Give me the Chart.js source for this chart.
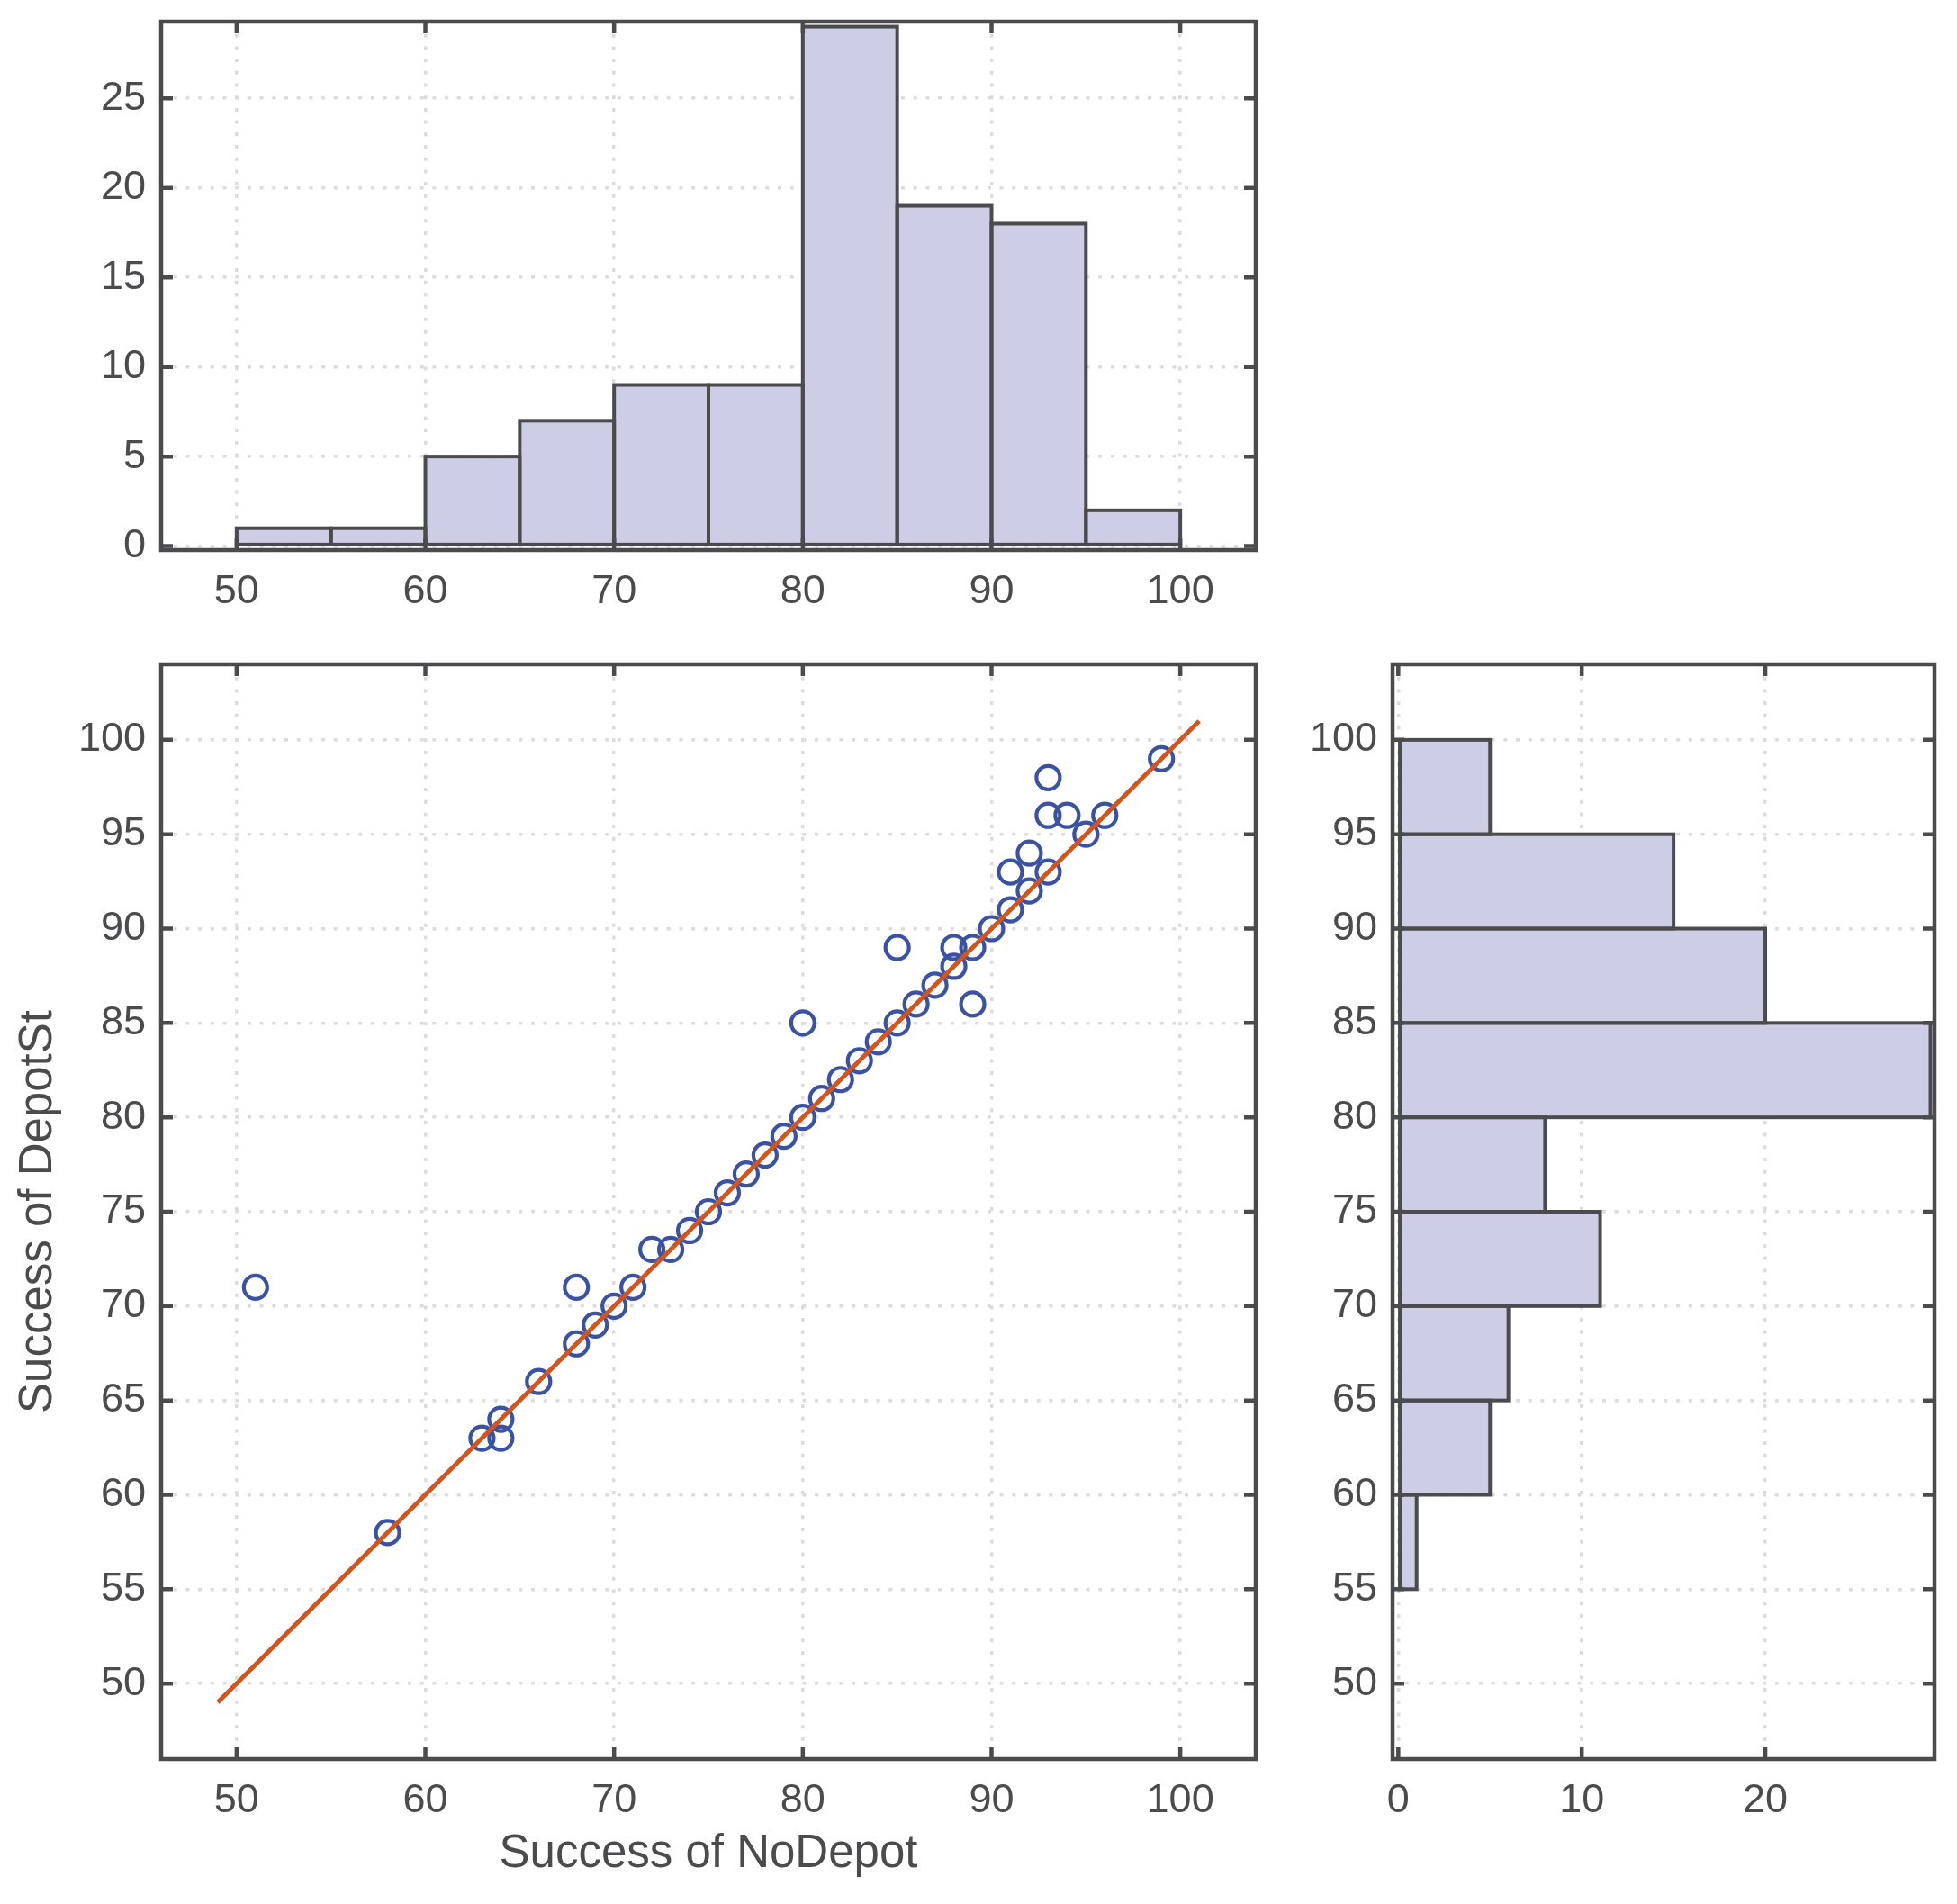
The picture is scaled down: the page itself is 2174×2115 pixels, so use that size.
<!DOCTYPE html>
<html>
<head>
<meta charset="utf-8">
<script src="https://cdn.jsdelivr.net/npm/chart.js@4.4.1/dist/chart.umd.min.js"></script>
<style>
html,body{margin:0;padding:0;background:#fff;overflow:hidden;width:2174px;height:2115px}
canvas{position:absolute;left:0;top:0}
</style>
</head>
<body>
<canvas id="topHist" width="2174" height="2115"></canvas>
<canvas id="mainScatter" width="2174" height="2115"></canvas>
<canvas id="sideHist" width="2174" height="2115"></canvas>
<script>
// ---------------- data ----------------
const noDepot = [51,58,63,64,64,66,68,68,69,70,71,72,73,74,75,76,77,78,79,80,80,81,82,83,84,85,85,86,87,88,88,89,89,90,91,91,92,92,93,93,93,94,95,96,99];
const depotSt = [71,58,63,64,63,66,71,68,69,70,71,73,73,74,75,76,77,78,79,80,85,81,82,83,84,85,89,86,87,88,89,89,86,90,91,93,92,94,93,96,98,96,95,96,99];
const fitLineX = [49, 101];
const fitLineY = [49, 101];

const noDepotBinEdges = [50,55,60,65,70,75,80,85,90,95,100];
const noDepotCounts   = [1,1,5,7,9,9,29,19,18,2];
const depotStBinEdges = [55,60,65,70,75,80,85,90,95,100];
const depotStCounts   = [1,5,6,11,8,29,20,15,5];

const successTicksX = [50,60,70,80,90,100];
const successTicksY = [50,55,60,65,70,75,80,85,90,95,100];
const topCountTicks = [0,5,10,15,20,25];
const sideCountTicks = [0,10,20];

const xTitle = 'Success of NoDepot';
const yTitle = 'Success of DepotSt';

// ---------------- style ----------------
const AX = '#4b4b4d';
const GRID = '#dcdcdc';
const FILL = '#cecde6';
const MARKER = '#3a52a4';
const FITCOLOR = '#d95319';
const FONT = "'Liberation Sans', Arial, Helvetica, sans-serif";

function axis(pos, min, max, tickVals, size, title) {
  return {
    type: 'linear', position: pos, min: min, max: max,
    offset: false,
    afterBuildTicks: s => { s.ticks = tickVals.map(v => ({ value: v })); },
    afterFit: s => {
      if (pos === 'left') s.width = size; else s.height = size;
      s.paddingTop = 0; s.paddingBottom = 0; s.paddingLeft = 0; s.paddingRight = 0;
    },
    grid: { color: GRID, lineWidth: 3.5, drawTicks: false, offset: false, borderDash: [4, 9.7] },
    border: { display: false, dash: [4, 9.7] },
    ticks: { color: AX, font: { family: FONT, size: 45 }, padding: pos === 'left' ? 17 : 20,
             maxRotation: 0, minRotation: 0, autoSkip: false },
    title: title ? { display: true, text: title, color: AX, font: { family: FONT, size: 51 }, padding: 0 }
                 : { display: false }
  };
}

const framePlugin = {
  id: 'frame',
  afterDraw(chart) {
    const ctx = chart.ctx;
    const { left, right, top, bottom } = chart.chartArea;
    const xs = chart.scales.x, ys = chart.scales.y;
    const TL = 13;
    ctx.save();
    ctx.strokeStyle = AX;
    ctx.lineWidth = 4.5;
    ctx.beginPath();
    xs.ticks.forEach(t => {
      const p = xs.getPixelForValue(t.value);
      ctx.moveTo(p, bottom); ctx.lineTo(p, bottom - TL);
      ctx.moveTo(p, top); ctx.lineTo(p, top + TL);
    });
    ys.ticks.forEach(t => {
      const p = ys.getPixelForValue(t.value);
      ctx.moveTo(left, p); ctx.lineTo(left + TL, p);
      ctx.moveTo(right, p); ctx.lineTo(right - TL, p);
    });
    ctx.stroke();
    ctx.lineJoin = 'miter';
    ctx.strokeRect(left, top, right - left, bottom - top);
    ctx.restore();
  }
};

const outlinePlugin = {
  id: 'barOutline',
  afterDatasetsDraw(chart) {
    const ctx = chart.ctx;
    const horiz = chart.options.indexAxis === 'y';
    const meta = chart.getDatasetMeta(0);
    ctx.save();
    ctx.strokeStyle = AX;
    ctx.lineWidth = 4;
    meta.data.forEach(el => {
      const p = el.getProps(['x', 'y', 'base', 'width', 'height'], true);
      if (horiz) {
        const l = Math.min(p.base, p.x), r = Math.max(p.base, p.x);
        ctx.strokeRect(l, p.y - p.height / 2, r - l, p.height);
      } else {
        const t = Math.min(p.base, p.y), b = Math.max(p.base, p.y);
        ctx.strokeRect(p.x - p.width / 2, t, p.width, b - t);
      }
    });
    ctx.restore();
  }
};

const common = {
  responsive: false,
  animation: false,
  devicePixelRatio: 1,
  events: [],
  plugins: { legend: { display: false }, tooltip: { enabled: false } }
};

// ---------------- top histogram ----------------
const topBars = noDepotCounts.map((c, i) => ({ x: (noDepotBinEdges[i] + noDepotBinEdges[i + 1]) / 2, y: c }));
new Chart(document.getElementById('topHist'), {
  type: 'bar',
  data: { datasets: [{ data: topBars, backgroundColor: FILL, borderWidth: 0,
                       barPercentage: 1, categoryPercentage: 1 }] },
  options: Object.assign({}, common, {
    layout: { padding: { left: 0, top: 24, right: 779, bottom: 1404 } },
    scales: {
      x: axis('bottom', 46, 104, successTicksX, 100, null),
      y: axis('left', -0.22, 29.28, topCountTicks, 179, null)
    }
  }),
  plugins: [outlinePlugin, framePlugin]
});

// ---------------- main scatter ----------------
const points = noDepot.map((v, i) => ({ x: v, y: depotSt[i] }));
const fitPoints = fitLineX.map((v, i) => ({ x: v, y: fitLineY[i] }));
new Chart(document.getElementById('mainScatter'), {
  type: 'scatter',
  data: { datasets: [
    { type: 'line', data: fitPoints, borderColor: FITCOLOR, borderWidth: 5, pointRadius: 0,
      fill: false, tension: 0, order: 0 },
    { data: points, pointStyle: 'circle', pointRadius: 13, pointBorderWidth: 4.2,
      borderColor: MARKER, pointBorderColor: MARKER, backgroundColor: 'rgba(0,0,0,0)',
      pointBackgroundColor: 'rgba(0,0,0,0)', showLine: false, order: 1 }
  ] },
  options: Object.assign({}, common, {
    layout: { padding: { left: 12, top: 738, right: 779, bottom: 24 } },
    scales: {
      x: axis('bottom', 46, 104, successTicksX, 137, xTitle),
      y: axis('left', 46, 104, successTicksY, 167, yTitle)
    }
  }),
  plugins: [framePlugin]
});

// ---------------- side histogram ----------------
const sideBars = depotStCounts.map((c, i) => ({ x: c, y: (depotStBinEdges[i] + depotStBinEdges[i + 1]) / 2 }));
new Chart(document.getElementById('sideHist'), {
  type: 'bar',
  data: { datasets: [{ data: sideBars, backgroundColor: FILL, borderWidth: 0,
                       barPercentage: 1, categoryPercentage: 1 }] },
  options: Object.assign({}, common, {
    indexAxis: 'y',
    layout: { padding: { left: 1397, top: 738, right: 25, bottom: 24 } },
    scales: {
      x: axis('bottom', -0.31, 29.22, sideCountTicks, 137, null),
      y: axis('left', 46, 104, successTicksY, 150, null)
    }
  }),
  plugins: [outlinePlugin, framePlugin]
});
</script>
</body>
</html>
